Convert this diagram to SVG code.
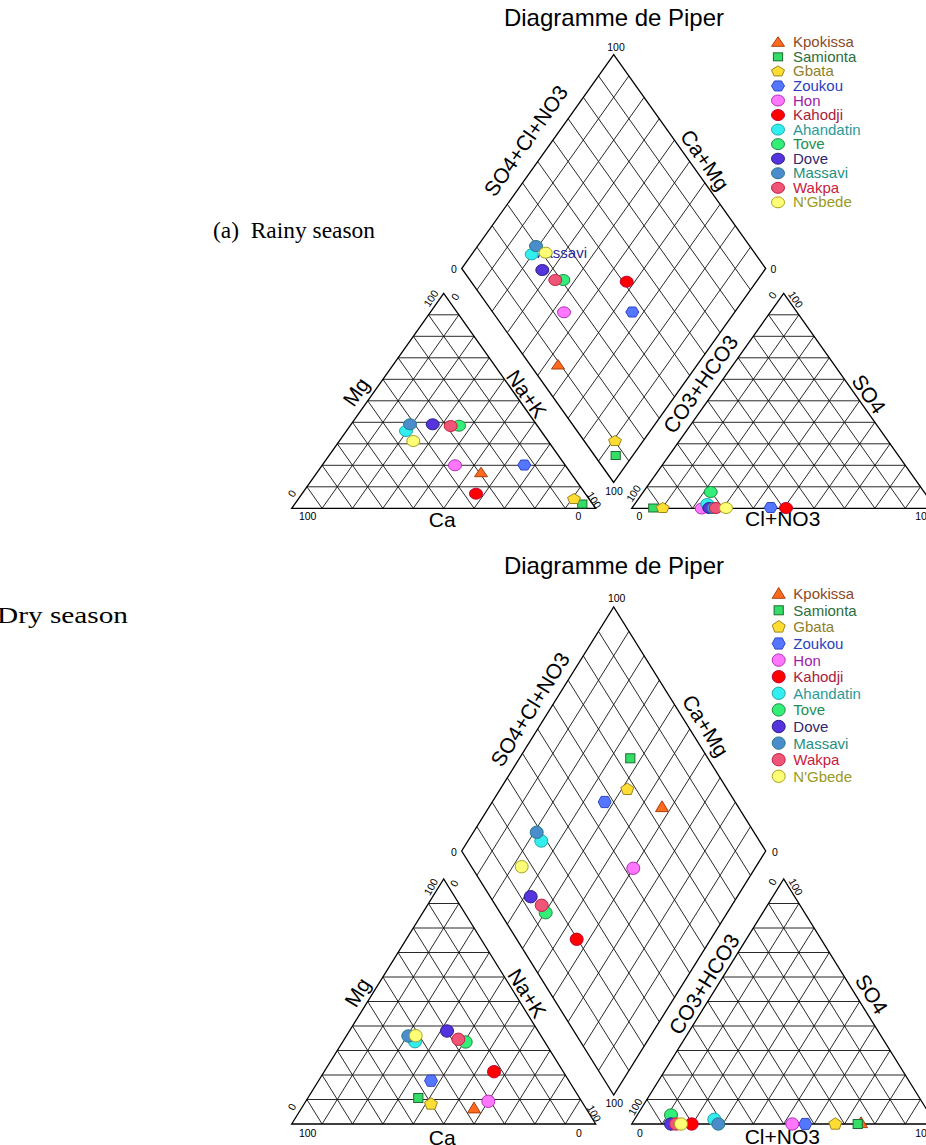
<svg xmlns="http://www.w3.org/2000/svg" width="926" height="1145" viewBox="0 0 926 1145">
<style>
text{font-family:"Liberation Sans",Arial,sans-serif;fill:#000}
.grid{fill:none;stroke:#111;stroke-width:0.9;vector-effect:non-scaling-stroke}
.out{fill:none;stroke:#000;stroke-width:1.3;vector-effect:non-scaling-stroke}
.tk{font-size:10.5px}
.ax{font-size:21px}
.ttl{font-size:24px}
.lg{font-size:15px}
.cap{font-family:"Liberation Serif","Times New Roman",serif;font-size:24px}
.kpo{fill:#ff6a1f;stroke:#a8400e}
.sam{fill:#33dd66;stroke:#1d6b30}
.gba{fill:#ffdd33;stroke:#9a8420}
.zou{fill:#5577ff;stroke:#2f45c8}
.hon{fill:#ff77ff;stroke:#b030b8}
.kah{fill:#ff0000;stroke:#c00038}
.aha{fill:#33eeee;stroke:#20a8a8}
.tov{fill:#33ee77;stroke:#1f8a45}
.dov{fill:#5533dd;stroke:#2c1f88}
.mas{fill:#4a8ccc;stroke:#277a88}
.wak{fill:#ee5577;stroke:#c42045}
.ngb{fill:#ffff77;stroke:#a8a21e}
use.m{stroke-width:1}
.tkpo{fill:#8b4a26}.tsam{fill:#2d6e3c}.tgba{fill:#8f7f2a}.tzou{fill:#2a3fc0}
.thon{fill:#a020a8}.tkah{fill:#a8203c}.taha{fill:#2a9a9a}.ttov{fill:#218f50}
.tdov{fill:#302870}.tmas{fill:#1f8f80}.twak{fill:#c82040}.tngb{fill:#9a9a20}
</style>
<defs>
<g id="tri">
<path class="grid" d="M5 -10H95M10 -20H90M15 -30H85M20 -40H80M25 -50H75M30 -60H70M35 -70H65M40 -80H60M45 -90H55
M10 0L55 -90M20 0L60 -80M30 0L65 -70M40 0L70 -60M50 0L75 -50M60 0L80 -40M70 0L85 -30M80 0L90 -20M90 0L95 -10
M10 0L5 -10M20 0L10 -20M30 0L15 -30M40 0L20 -40M50 0L25 -50M60 0L30 -60M70 0L35 -70M80 0L40 -80M90 0L45 -90"/>
<path class="out" d="M0 0L100 0L50 -100Z"/>
</g>
<g id="dia">
<path class="grid" d="M5 -10L-45 -110M10 -20L-40 -120M15 -30L-35 -130M20 -40L-30 -140M25 -50L-25 -150M30 -60L-20 -160M35 -70L-15 -170M40 -80L-10 -180M45 -90L-5 -190
M-5 -10L45 -110M-10 -20L40 -120M-15 -30L35 -130M-20 -40L30 -140M-25 -50L25 -150M-30 -60L20 -160M-35 -70L15 -170M-40 -80L10 -180M-45 -90L5 -190"/>
<path class="out" d="M0 0L-50 -100L0 -200L50 -100Z"/>
</g>
<ellipse id="ct" rx="6.5" ry="5.5"/>
<ellipse id="cb" rx="6.5" ry="6.2"/>
<polygon id="tt" points="0,-5.5 6.5,4 -6.5,4"/>
<polygon id="tb" points="0,-6.2 6.5,4.6 -6.5,4.6"/>
<rect id="st" x="-4.6" y="-4" width="9.2" height="8"/>
<rect id="sb" x="-4.6" y="-4.5" width="9.2" height="9"/>
<polygon id="pt" points="0,-5.5 6.5,-1.5 4,4.5 -4,4.5 -6.5,-1.5"/>
<polygon id="pb" points="0,-6.3 6.5,-1.8 4,5.2 -4,5.2 -6.5,-1.8"/>
<polygon id="ht" points="-6.5,0 -3.5,-5 3.5,-5 6.5,0 3.5,5 -3.5,5"/>
<polygon id="hb" points="-6.5,0 -3.5,-5.6 3.5,-5.6 6.5,0 3.5,5.6 -3.5,5.6"/>
</defs>

<text class="cap" x="213" y="238" xml:space="preserve" textLength="162" lengthAdjust="spacingAndGlyphs">(a)  Rainy season</text>
<text class="cap" x="-3" y="623" textLength="131" lengthAdjust="spacingAndGlyphs">Dry season</text>

<!-- ============ TOP DIAGRAM ============ -->
<g id="piper-rainy">
<text class="ttl" x="614" y="26" text-anchor="middle">Diagramme de Piper</text>
<g id="grid-top">
<use href="#tri" transform="translate(291.7 508.3) scale(3.04 2.15)"/>
<use href="#tri" transform="translate(631.7 508.3) scale(3.04 2.15)"/>
<use href="#dia" transform="translate(613.7 482.5) scale(3.04 2.14)"/>
</g>
<g id="ticks-top" class="tk" text-anchor="middle" dominant-baseline="central">
<text x="616" y="47">100</text>
<text x="454" y="269.3">0</text>
<text x="773.3" y="269.3">0</text>
<text x="614" y="490.7">100</text>
<text transform="translate(430.7 298.3) rotate(-57)">100</text>
<text transform="translate(455 296.7) rotate(-57)">0</text>
<text transform="translate(291.7 493.3) rotate(-57)">0</text>
<text x="307.7" y="516">100</text>
<text x="578.3" y="516">0</text>
<text transform="translate(594.3 500) rotate(57)">100</text>
<text transform="translate(772.3 295) rotate(-57)">0</text>
<text transform="translate(796 299.3) rotate(57)">100</text>
<text transform="translate(633.3 493.3) rotate(-57)">100</text>
<text x="639.3" y="516">0</text>
<text x="924" y="516">100</text>
</g>
<g id="axes-top" class="ax" text-anchor="middle" dominant-baseline="central">
<text transform="translate(525.7 140.7) rotate(-55)">SO4+Cl+NO3</text>
<text transform="translate(705 160) rotate(55)">Ca+Mg</text>
<text transform="translate(356 391.7) rotate(-55)">Mg</text>
<text transform="translate(526.7 394) rotate(55)">Na+K</text>
<text x="442.3" y="519.5">Ca</text>
<text transform="translate(700.5 384) rotate(-55)">CO3+HCO3</text>
<text transform="translate(869 394) rotate(55)">SO4</text>
<text x="782.7" y="518.5">Cl+NO3</text>
</g>
<text x="532" y="257.5" class="lg" style="fill:#2a2aa0">Massavi</text>
<g id="pts-top">
<use class="m kpo" href="#tt" x="481" y="472.7"/>
<use class="m sam" href="#st" x="582.3" y="504"/>
<use class="m gba" href="#pt" x="574" y="499"/>
<use class="m zou" href="#ht" x="524.3" y="465"/>
<use class="m hon" href="#ct" x="455" y="465.3"/>
<use class="m kah" href="#ct" x="476" y="493.7"/>
<use class="m aha" href="#ct" x="406" y="431"/>
<use class="m tov" href="#ct" x="459" y="425.7"/>
<use class="m dov" href="#ct" x="432.7" y="424.3"/>
<use class="m mas" href="#ct" x="410" y="424.3"/>
<use class="m wak" href="#ct" x="450.7" y="426"/>
<use class="m ngb" href="#ct" x="413.3" y="441"/>

<use class="m kpo" href="#tt" x="558" y="365"/>
<use class="m sam" href="#st" x="615.7" y="455.5"/>
<use class="m gba" href="#pt" x="615" y="441"/>
<use class="m zou" href="#ht" x="632.3" y="312"/>
<use class="m hon" href="#ct" x="564" y="312.3"/>
<use class="m kah" href="#ct" x="626.7" y="281.7"/>
<use class="m aha" href="#ct" x="531.7" y="254.3"/>
<use class="m tov" href="#ct" x="563.3" y="280"/>
<use class="m dov" href="#ct" x="542.3" y="270"/>
<use class="m mas" href="#ct" x="536" y="246"/>
<use class="m wak" href="#ct" x="555.3" y="280"/>
<use class="m ngb" href="#ct" x="545.7" y="252.7"/>

<use class="m kpo" href="#tt" x="712" y="507"/>
<use class="m sam" href="#st" x="653.3" y="508"/>
<use class="m gba" href="#pt" x="662.7" y="508"/>
<use class="m zou" href="#ht" x="770.7" y="507.5"/>
<use class="m hon" href="#ct" x="701.7" y="508.5"/>
<use class="m kah" href="#ct" x="786" y="508"/>
<use class="m aha" href="#ct" x="707.3" y="504"/>
<use class="m tov" href="#ct" x="710.7" y="492"/>
<use class="m dov" href="#ct" x="709.3" y="508"/>
<use class="m mas" href="#ct" x="713.5" y="508"/>
<use class="m wak" href="#ct" x="716" y="508"/>
<use class="m ngb" href="#ct" x="726" y="508"/>
</g>
<g id="legend-top" class="lg">
<use class="m kpo" href="#tt" x="778" y="42.3"/><text class="tkpo" x="793" y="47.3">Kpokissa</text>
<use class="m sam" href="#st" x="778" y="56.85"/><text class="tsam" x="793" y="61.85">Samionta</text>
<use class="m gba" href="#pt" x="778" y="71.4"/><text class="tgba" x="793" y="76.4">Gbata</text>
<use class="m zou" href="#ht" x="778" y="85.95"/><text class="tzou" x="793" y="90.95">Zoukou</text>
<use class="m hon" href="#ct" x="778" y="100.5"/><text class="thon" x="793" y="105.5">Hon</text>
<use class="m kah" href="#ct" x="778" y="115.05"/><text class="tkah" x="793" y="120.05">Kahodji</text>
<use class="m aha" href="#ct" x="778" y="129.6"/><text class="taha" x="793" y="134.6">Ahandatin</text>
<use class="m tov" href="#ct" x="778" y="144.15"/><text class="ttov" x="793" y="149.15">Tove</text>
<use class="m dov" href="#ct" x="778" y="158.7"/><text class="tdov" x="793" y="163.7">Dove</text>
<use class="m mas" href="#ct" x="778" y="173.25"/><text class="tmas" x="793" y="178.25">Massavi</text>
<use class="m wak" href="#ct" x="778" y="187.8"/><text class="twak" x="793" y="192.8">Wakpa</text>
<use class="m ngb" href="#ct" x="778" y="202.35"/><text class="tngb" x="793" y="207.35">N'Gbede</text>
</g>
</g>

<!-- ============ BOTTOM DIAGRAM ============ -->
<g id="piper-dry">
<text class="ttl" x="614" y="574" text-anchor="middle">Diagramme de Piper</text>
<g id="grid-bottom">
<use href="#tri" transform="translate(291.7 1124) scale(3.04 2.45)"/>
<use href="#tri" transform="translate(631.7 1124) scale(3.04 2.45)"/>
<use href="#dia" transform="translate(613.7 1095) scale(3.04 2.44)"/>
</g>
<g id="ticks-bottom" class="tk" text-anchor="middle" dominant-baseline="central">
<text x="616.7" y="598.3">100</text>
<text x="454" y="852.3">0</text>
<text x="775" y="852.3">0</text>
<text x="614.3" y="1102.7">100</text>
<text transform="translate(430.7 886.7) rotate(-60)">100</text>
<text transform="translate(454 883.3) rotate(-60)">0</text>
<text transform="translate(291.7 1106.7) rotate(-60)">0</text>
<text x="307.7" y="1132.7">100</text>
<text x="579" y="1132.7">0</text>
<text transform="translate(594.3 1113.3) rotate(60)">100</text>
<text transform="translate(772.3 881.7) rotate(-60)">0</text>
<text transform="translate(796 886.7) rotate(60)">100</text>
<text transform="translate(635 1106.7) rotate(-60)">100</text>
<text x="640" y="1132.7">0</text>
<text x="924" y="1132.7">100</text>
</g>
<g id="axes-bottom" class="ax" text-anchor="middle" dominant-baseline="central">
<text transform="translate(530 709.3) rotate(-58)">SO4+Cl+NO3</text>
<text transform="translate(705.7 725.7) rotate(58)">Ca+Mg</text>
<text transform="translate(357.3 992.3) rotate(-58)">Mg</text>
<text transform="translate(527.3 993.3) rotate(58)">Na+K</text>
<text x="442.3" y="1137">Ca</text>
<text transform="translate(704 984) rotate(-58)">CO3+HCO3</text>
<text transform="translate(871.7 994) rotate(58)">SO4</text>
<text x="782.3" y="1136.5">Cl+NO3</text>
</g>
<g id="pts-bottom">
<use class="m kpo" href="#tb" x="474" y="1108.3"/>
<use class="m sam" href="#sb" x="418.3" y="1098"/>
<use class="m gba" href="#pb" x="431" y="1104"/>
<use class="m zou" href="#hb" x="431" y="1080.7"/>
<use class="m hon" href="#cb" x="488.3" y="1101.3"/>
<use class="m kah" href="#cb" x="494" y="1071.7"/>
<use class="m aha" href="#cb" x="415" y="1041.7"/>
<use class="m tov" href="#cb" x="465.7" y="1042"/>
<use class="m dov" href="#cb" x="447" y="1031"/>
<use class="m mas" href="#cb" x="408.3" y="1036"/>
<use class="m wak" href="#cb" x="458.3" y="1039.3"/>
<use class="m ngb" href="#cb" x="415.7" y="1035.7"/>

<use class="m kpo" href="#tb" x="662" y="807"/>
<use class="m sam" href="#sb" x="630.3" y="758.3"/>
<use class="m gba" href="#pb" x="627.3" y="789.3"/>
<use class="m zou" href="#hb" x="604.7" y="802"/>
<use class="m hon" href="#cb" x="633.3" y="868.3"/>
<use class="m kah" href="#cb" x="576.7" y="939.3"/>
<use class="m aha" href="#cb" x="541.3" y="841"/>
<use class="m tov" href="#cb" x="545.7" y="912.7"/>
<use class="m dov" href="#cb" x="530.7" y="896.7"/>
<use class="m mas" href="#cb" x="536.7" y="832.3"/>
<use class="m wak" href="#cb" x="541.7" y="905.3"/>
<use class="m ngb" href="#cb" x="521.7" y="866.7"/>

<use class="m kpo" href="#tb" x="861" y="1123"/>
<use class="m sam" href="#sb" x="857.7" y="1124"/>
<use class="m gba" href="#pb" x="835.3" y="1124"/>
<use class="m zou" href="#hb" x="805.3" y="1124"/>
<use class="m hon" href="#cb" x="792.3" y="1124"/>
<use class="m kah" href="#cb" x="691.7" y="1124"/>
<use class="m aha" href="#cb" x="714.3" y="1119.3"/>
<use class="m tov" href="#cb" x="671" y="1115"/>
<use class="m dov" href="#cb" x="671" y="1124"/>
<use class="m mas" href="#cb" x="718.3" y="1124"/>
<use class="m wak" href="#cb" x="676" y="1124"/>
<use class="m ngb" href="#cb" x="681" y="1124"/>
</g>
<g id="legend-bottom" class="lg">
<use class="m kpo" href="#tb" x="778.7" y="593.7"/><text class="tkpo" x="793.3" y="599.2">Kpokissa</text>
<use class="m sam" href="#sb" x="778.7" y="610.3"/><text class="tsam" x="793.3" y="615.8">Samionta</text>
<use class="m gba" href="#pb" x="778.7" y="626.9"/><text class="tgba" x="793.3" y="632.4">Gbata</text>
<use class="m zou" href="#hb" x="778.7" y="643.5"/><text class="tzou" x="793.3" y="649">Zoukou</text>
<use class="m hon" href="#cb" x="778.7" y="660.1"/><text class="thon" x="793.3" y="665.6">Hon</text>
<use class="m kah" href="#cb" x="778.7" y="676.7"/><text class="tkah" x="793.3" y="682.2">Kahodji</text>
<use class="m aha" href="#cb" x="778.7" y="693.3"/><text class="taha" x="793.3" y="698.8">Ahandatin</text>
<use class="m tov" href="#cb" x="778.7" y="709.9"/><text class="ttov" x="793.3" y="715.4">Tove</text>
<use class="m dov" href="#cb" x="778.7" y="726.5"/><text class="tdov" x="793.3" y="732">Dove</text>
<use class="m mas" href="#cb" x="778.7" y="743.1"/><text class="tmas" x="793.3" y="748.6">Massavi</text>
<use class="m wak" href="#cb" x="778.7" y="759.7"/><text class="twak" x="793.3" y="765.2">Wakpa</text>
<use class="m ngb" href="#cb" x="778.7" y="776.3"/><text class="tngb" x="793.3" y="781.8">N'Gbede</text>
</g>
</g>
</svg>
